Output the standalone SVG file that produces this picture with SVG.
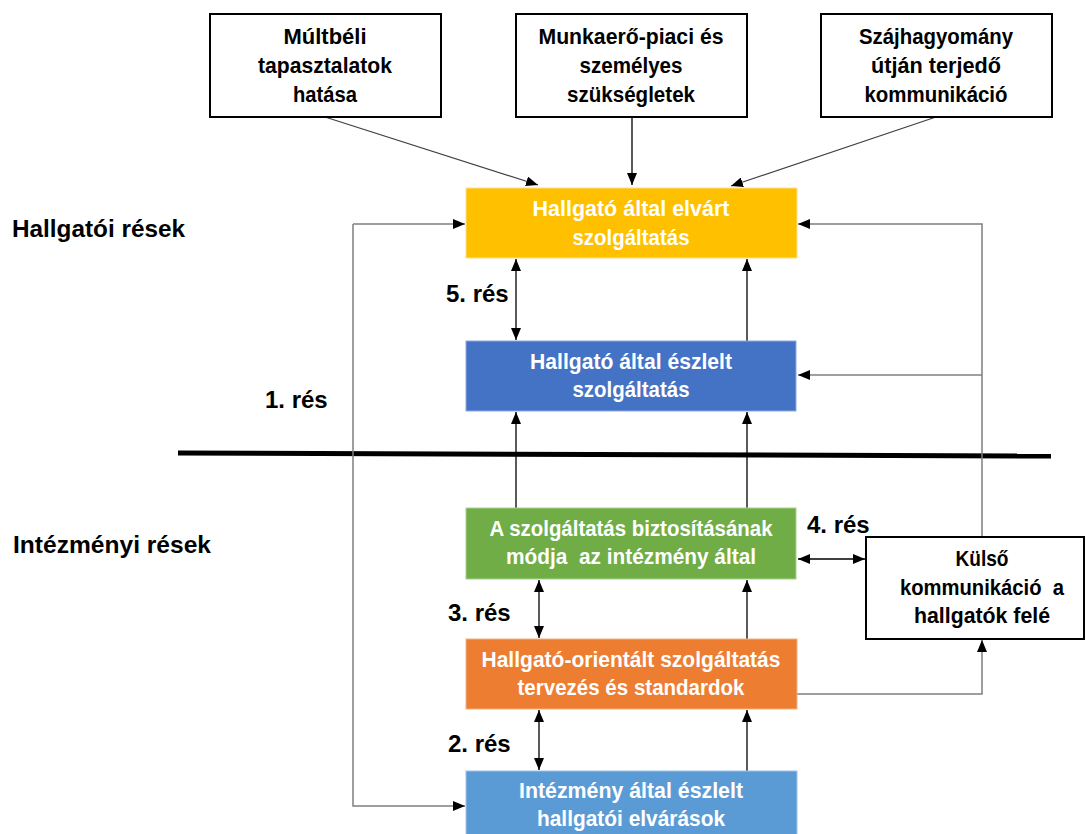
<svg xmlns="http://www.w3.org/2000/svg" width="1086" height="834" viewBox="0 0 1086 834">
<style>
.t{font-family:"Liberation Sans",Arial,sans-serif;font-weight:bold;font-size:22px;text-anchor:middle}
.w{fill:#fff}
.k{fill:#000}
.lab{font-family:"Liberation Sans",Arial,sans-serif;font-weight:bold;font-size:24px;fill:#000}
.ob{fill:#fff;stroke:#000;stroke-width:2}
.c{fill:none;stroke:#000;stroke-width:1.3}
.g{fill:none;stroke:#7f7f7f;stroke-width:1.5}
.d{fill:none;stroke:#404040;stroke-width:1.3}
</style>
<defs>
<marker id="ah" markerUnits="userSpaceOnUse" markerWidth="12" markerHeight="10" refX="12" refY="5" orient="auto-start-reverse">
<path d="M0,0 L12,5 L0,10 Z" fill="#000"/>
</marker>
</defs>
<rect width="1086" height="834" fill="#fff"/>

<g id="labels">
<text class="lab" x="12" y="237" textLength="173" lengthAdjust="spacingAndGlyphs">Hallgatói rések</text>
<text class="lab" x="13" y="553" textLength="198" lengthAdjust="spacingAndGlyphs">Intézményi rések</text>
<text class="lab" x="446" y="302">5. rés</text>
<text class="lab" x="265" y="408">1. rés</text>
<text class="lab" x="807" y="533">4. rés</text>
<text class="lab" x="448" y="621">3. rés</text>
<text class="lab" x="448" y="752">2. rés</text>
</g>

<line x1="178" y1="453" x2="1051" y2="456" stroke="#000" stroke-width="5"/>

<g id="connectors">
<path class="d" d="M325,117 L538,185" marker-end="url(#ah)"/>
<path class="c" d="M632,117 V185" marker-end="url(#ah)"/>
<path class="d" d="M936,117 L731,186" marker-end="url(#ah)"/>
<path class="c" d="M516,259 V340" marker-start="url(#ah)" marker-end="url(#ah)"/>
<path class="c" d="M747,341 V259" marker-end="url(#ah)"/>
<path class="c" d="M516,508 V412" marker-end="url(#ah)"/>
<path class="c" d="M747,508 V412" marker-end="url(#ah)"/>
<path class="c" d="M539,580 V638" marker-start="url(#ah)" marker-end="url(#ah)"/>
<path class="c" d="M747,639 V580" marker-end="url(#ah)"/>
<path class="c" d="M539,710 V770" marker-start="url(#ah)" marker-end="url(#ah)"/>
<path class="c" d="M747,771 V710" marker-end="url(#ah)"/>
<path class="c" d="M798,559 H865" marker-start="url(#ah)" marker-end="url(#ah)"/>
<path class="g" d="M353,224 H465" marker-end="url(#ah)"/>
<path class="g" d="M353,224 V806 H465" marker-end="url(#ah)"/>
<path class="g" d="M982,537 V224 H798" marker-end="url(#ah)"/>
<path class="g" d="M982,375 H798" marker-end="url(#ah)"/>
<path class="g" d="M797,694 H982 V640" marker-end="url(#ah)"/>
</g>

<g id="n-multbeli">
<rect class="ob" x="210" y="14" width="231" height="103"/>
<text class="t k" x="325" y="44" textLength="83" lengthAdjust="spacingAndGlyphs">Múltbéli</text>
<text class="t k" x="325" y="73" textLength="134" lengthAdjust="spacingAndGlyphs">tapasztalatok</text>
<text class="t k" x="325" y="102" textLength="64" lengthAdjust="spacingAndGlyphs">hatása</text>
</g>
<g id="n-munkaero">
<rect class="ob" x="516" y="14" width="231" height="103"/>
<text class="t k" x="631" y="44" textLength="185" lengthAdjust="spacingAndGlyphs">Munkaerő-piaci és</text>
<text class="t k" x="631" y="73" textLength="103" lengthAdjust="spacingAndGlyphs">személyes</text>
<text class="t k" x="631" y="102" textLength="128" lengthAdjust="spacingAndGlyphs">szükségletek</text>
</g>
<g id="n-szajhagyomany">
<rect class="ob" x="821" y="14" width="231" height="103"/>
<text class="t k" x="936" y="44" textLength="154" lengthAdjust="spacingAndGlyphs">Szájhagyomány</text>
<text class="t k" x="936" y="73" textLength="130" lengthAdjust="spacingAndGlyphs">útján terjedő</text>
<text class="t k" x="936" y="102" textLength="143" lengthAdjust="spacingAndGlyphs">kommunikáció</text>
</g>

<g id="n-elvart">
<rect x="466" y="188" width="331" height="70" fill="#FFC000" stroke="#ffe08a" stroke-width="1"/>
<text class="t w" x="631" y="216" textLength="197" lengthAdjust="spacingAndGlyphs">Hallgató által elvárt</text>
<text class="t w" x="631" y="245" textLength="117" lengthAdjust="spacingAndGlyphs">szolgáltatás</text>
</g>
<g id="n-eszlelt">
<rect x="466" y="341" width="330" height="70" fill="#4472C4" stroke="#8fa9e0" stroke-width="1"/>
<text class="t w" x="631" y="369" textLength="202" lengthAdjust="spacingAndGlyphs">Hallgató által észlelt</text>
<text class="t w" x="631" y="397" textLength="117" lengthAdjust="spacingAndGlyphs">szolgáltatás</text>
</g>
<g id="n-biztositas">
<rect x="466" y="508" width="330" height="71" fill="#70AD47" stroke="#a9d18e" stroke-width="1"/>
<text class="t w" x="631" y="536" textLength="283" lengthAdjust="spacingAndGlyphs">A szolgáltatás biztosításának</text>
<text class="t w" x="631" y="564" textLength="250" lengthAdjust="spacingAndGlyphs" xml:space="preserve">módja  az intézmény által</text>
</g>
<g id="n-tervezes">
<rect x="466" y="639" width="331" height="70" fill="#ED7D31" stroke="#f4b183" stroke-width="1"/>
<text class="t w" x="631" y="667" textLength="299" lengthAdjust="spacingAndGlyphs">Hallgató-orientált szolgáltatás</text>
<text class="t w" x="631" y="695" textLength="227" lengthAdjust="spacingAndGlyphs">tervezés és standardok</text>
</g>
<g id="n-intezmeny">
<rect x="466" y="771" width="331" height="70" fill="#5B9BD5" stroke="#9dc3e6" stroke-width="1"/>
<text class="t w" x="631" y="798" textLength="224" lengthAdjust="spacingAndGlyphs">Intézmény által észlelt</text>
<text class="t w" x="631" y="826" textLength="188" lengthAdjust="spacingAndGlyphs">hallgatói elvárások</text>
</g>
<g id="n-kulso">
<rect class="ob" x="866" y="537" width="218" height="102"/>
<text class="t k" x="982" y="566" textLength="53" lengthAdjust="spacingAndGlyphs">Külső</text>
<text class="t k" x="982" y="595" textLength="164" lengthAdjust="spacingAndGlyphs" xml:space="preserve">kommunikáció  a</text>
<text class="t k" x="982" y="623" textLength="136" lengthAdjust="spacingAndGlyphs">hallgatók felé</text>
</g>
</svg>
